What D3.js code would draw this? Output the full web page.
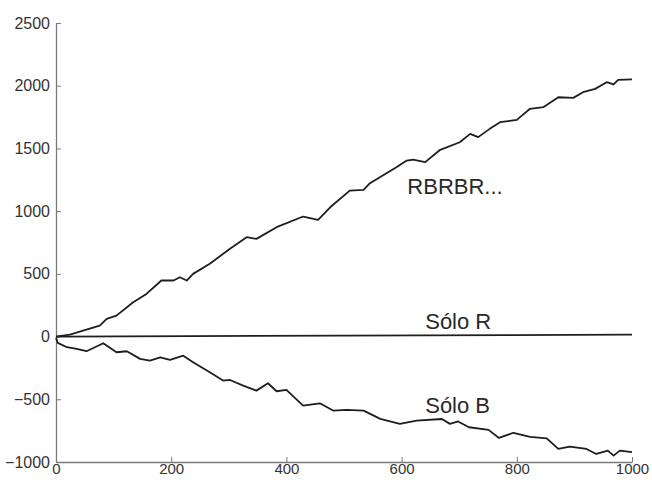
<!DOCTYPE html>
<html>
<head>
<meta charset="utf-8">
<script src="https://cdn.jsdelivr.net/npm/d3@7"></script>
<style>
  html, body { margin: 0; padding: 0; background: #fff; }
  svg { display: block; }
</style>
</head>
<body>
<svg id="chart" width="652" height="482"></svg>
<script>
// ---- Data ----
const xTicks = [0, 200, 400, 600, 800, 1000];
const yTicks = [-1000, -500, 0, 500, 1000, 1500, 2000, 2500];

const rbrX = [0, 24, 47, 76, 88, 105, 134, 157, 183, 204, 215, 227, 238, 267, 302, 331, 348, 383, 429, 455, 476, 510, 534, 545, 591, 609, 620, 641, 667, 701, 719, 733, 753, 771, 800, 823, 846, 872, 898, 915, 936, 956, 968, 976, 1000];
const rbrY = [0, 16, 48, 88, 141, 167, 274, 340, 447, 447, 473, 447, 500, 580, 700, 792, 779, 872, 957, 930, 1031, 1164, 1170, 1223, 1350, 1403, 1410, 1391, 1489, 1549, 1616, 1590, 1656, 1709, 1728, 1816, 1829, 1908, 1903, 1948, 1975, 2028, 2010, 2047, 2050];

const soloRX = [0, 1000];
const soloRY = [0, 15];

const soloBX = [0, 3, 19, 36, 53, 82, 105, 123, 146, 163, 181, 198, 221, 238, 267, 290, 302, 325, 348, 368, 383, 400, 429, 458, 481, 505, 534, 563, 597, 626, 670, 684, 698, 717, 751, 769, 794, 823, 852, 872, 892, 921, 938, 958, 968, 979, 1000];
const soloBY = [-10, -50, -85, -98, -117, -53, -125, -117, -178, -191, -165, -186, -152, -205, -285, -351, -346, -391, -431, -372, -436, -425, -550, -532, -590, -585, -590, -656, -696, -670, -657, -696, -677, -723, -744, -808, -767, -800, -812, -896, -877, -896, -936, -909, -949, -909, -922];

const seriesLabels = [
  { text: "RBRBR...", x: 610, y: 1140 },
  { text: "Sólo R", x: 641, y: 64 },
  { text: "Sólo B", x: 641, y: -606 }
];

// ---- Layout ----
const W = 652, H = 482;
const margin = { left: 56, right: 20, top: 23, bottom: 20 };
const svg = d3.select("#chart");

const x = d3.scaleLinear().domain([0, 1000]).range([margin.left, W - margin.right]);
const y = d3.scaleLinear().domain([-1000, 2500]).range([H - margin.bottom, margin.top]);

const font = "'Liberation Sans', Arial, sans-serif";
const axisColor = "#7a7a7a";
const textColor = "#333";

// X axis (ticks point inward/up)
const gx = svg.append("g")
  .attr("transform", `translate(0,${H - margin.bottom})`)
  .call(d3.axisBottom(x).tickValues(xTicks).tickSize(-5).tickSizeOuter(0).tickPadding(3).tickFormat(d3.format("d")));
gx.select(".domain").attr("stroke", axisColor).attr("stroke-width", 1.3);
gx.selectAll(".tick line").attr("stroke", axisColor);
gx.selectAll("text").attr("font-family", font).attr("font-size", 15).attr("fill", textColor)
  .attr("dy", "0.62em");

// Y axis (ticks point inward/right)
const gy = svg.append("g")
  .attr("transform", `translate(${margin.left},0)`)
  .call(d3.axisLeft(y).tickValues(yTicks).tickSize(-5).tickSizeOuter(0).tickPadding(6).tickFormat(d3.format("d")));
gy.select(".domain").attr("stroke", axisColor).attr("stroke-width", 1.3);
gy.selectAll(".tick line").attr("stroke", axisColor);
gy.selectAll("text").attr("font-family", font).attr("font-size", 16).attr("fill", textColor);

// ---- Lines ----
const line = d3.line().x(d => x(d[0])).y(d => y(d[1]));
const zip = (a, b) => a.map((v, i) => [v, b[i]]);

[
  zip(rbrX, rbrY),
  zip(soloRX, soloRY),
  zip(soloBX, soloBY)
].forEach(data => {
  svg.append("path")
    .datum(data)
    .attr("fill", "none")
    .attr("stroke", "#1e1e1e")
    .attr("stroke-width", 1.8)
    .attr("stroke-linejoin", "round")
    .attr("d", line);
});

// ---- Series labels ----
svg.selectAll("text.series")
  .data(seriesLabels)
  .enter().append("text")
  .attr("class", "series")
  .attr("x", d => x(d.x))
  .attr("y", d => y(d.y))
  .attr("font-family", font)
  .attr("font-size", 22)
  .attr("fill", "#2a2a2a")
  .text(d => d.text);
</script>
</body>
</html>
